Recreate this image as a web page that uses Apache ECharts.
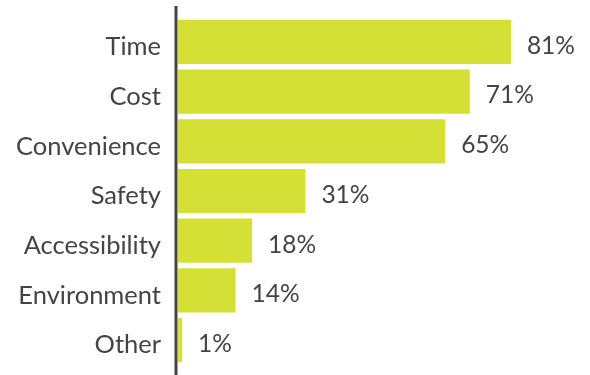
<!DOCTYPE html>
<html>
<head>
<meta charset="utf-8">
<script src="https://cdn.jsdelivr.net/npm/echarts@6/dist/echarts.min.js"></script>
<style>
html,body{margin:0;padding:0;background:#fff;}
#chart{width:590px;height:375px;}
</style>
</head>
<body>
<div id="chart"></div>
<script>
// reasons, top to bottom
var categories = ['Time', 'Cost', 'Convenience', 'Safety', 'Accessibility', 'Environment', 'Other'];
var values = [81, 71, 65, 31, 18, 14, 1];

var chart = echarts.init(document.getElementById('chart'));
var option = {
    animation: false,
    textStyle: { fontFamily: 'Lato' },
    grid: { left: 178, top: 17, width: 411, height: 348 },
    xAxis: {
        type: 'value',
        min: 0,
        max: 100,
        show: false
    },
    yAxis: {
        type: 'category',
        inverse: true,
        data: categories,
        axisLine: { show: false },
        axisTick: { show: false },
        axisLabel: {
            margin: 17,
            formatter: '{a|{value}}',
            rich: {
                a: {
                    color: '#444',
                    fontSize: 25.5,
                    fontFamily: 'Lato',
                    padding: [10, 0, 0, 0]
                }
            }
        }
    },
    graphic: [
        {
            type: 'line',
            shape: { x1: 176, y1: 6, x2: 176, y2: 375 },
            style: { stroke: '#444', lineWidth: 3 }
        }
    ],
    series: [
        {
            type: 'bar',
            data: values,
            barCategoryGap: '11%',
            itemStyle: { color: '#d5e036' },
            label: {
                show: true,
                position: 'right',
                distance: 16,
                offset: [0, 4],
                color: '#444',
                fontSize: 24.5,
                fontFamily: 'Lato',
                formatter: '{c}%'
            }
        }
    ]
};
chart.setOption(option);
</script>
</body>
</html>
